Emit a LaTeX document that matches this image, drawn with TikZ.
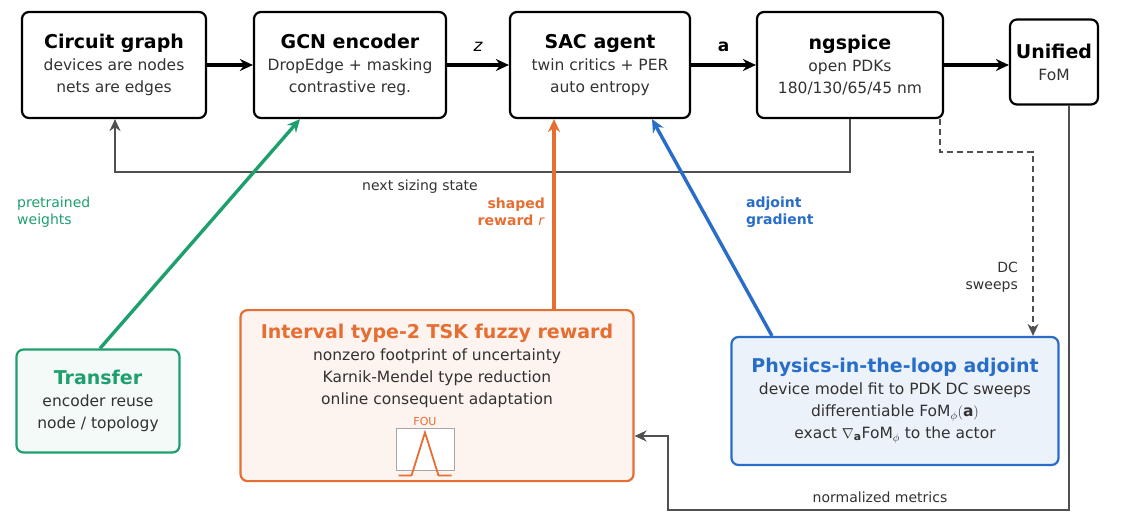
\documentclass[tikz,border=0pt]{standalone}
\usepackage{fontspec}
\usepackage{amsmath,amssymb}
\setmainfont{DejaVu Sans}
\usetikzlibrary{arrows.meta}
\definecolor{boxOrange}{RGB}{230,110,50}
\definecolor{boxGreen}{RGB}{30,160,110}
\definecolor{boxBlue}{RGB}{40,110,200}
\definecolor{linkGray}{RGB}{80,80,80}
\definecolor{bodyGray}{RGB}{50,50,50}
\tikzset{
  stage/.style={draw=black,line width=2.2pt,rounded corners=7pt,fill=white,align=center,inner sep=0pt,
    font=\fontsize{15.5}{22}\selectfont},
  flow/.style={line width=3.4pt,-{Stealth[length=13pt,width=12pt]}},
  back/.style={draw=linkGray,line width=1.8pt,-{Stealth[length=12pt,width=11pt]}},
  tag/.style={inner sep=0pt,font=\fontsize{14}{17}\selectfont},
}
\newcommand{\ttl}[1]{{\fontsize{19}{22}\selectfont\bfseries #1}}
\newcommand{\bdy}{\color{bodyGray}}
\begin{document}
\begin{tikzpicture}[x=1pt,y=-1pt]
\path[use as bounding box,fill=white] (0,0) rectangle (1131,522);

% top row
\node[stage,minimum width=184pt,minimum height=106pt] (graph) at (114,65)
  {\ttl{Circuit graph}\\{\bdy devices are nodes}\\{\bdy nets are edges}};
\node[stage,minimum width=192pt,minimum height=106pt] (gcn) at (350,65)
  {\ttl{GCN encoder}\\{\bdy DropEdge + masking}\\{\bdy contrastive reg.}};
\node[stage,minimum width=180pt,minimum height=106pt] (sac) at (600,65)
  {\ttl{SAC agent}\\{\bdy twin critics + PER}\\{\bdy auto entropy}};
\node[stage,minimum width=186pt,minimum height=106pt] (spice) at (850,65)
  {\ttl{ngspice}\\{\bdy open PDKs}\\{\bdy 180/130/65/45 nm}};
\node[stage,minimum width=88pt,minimum height=85pt] (fom) at (1054,62)
  {\ttl{Unified}\\{\bdy FoM}};

% bottom row
\node[stage,draw=boxGreen,fill=boxGreen!5,minimum width=163pt,minimum height=103pt] (transfer) at (98,401)
  {\ttl{\color{boxGreen}Transfer}\\{\bdy encoder reuse}\\{\bdy node / topology}};
\node[stage,draw=boxOrange,fill=boxOrange!8,minimum width=393pt,minimum height=171pt,anchor=north] (fuzzy) at (437,309) {};
\node[align=center,anchor=north,inner sep=0pt,font=\fontsize{15.5}{22}\selectfont] (fuzzytxt) at (437,324)
  {\ttl{\color{boxOrange}Interval type-2 TSK fuzzy reward}\\{\bdy nonzero footprint of uncertainty}\\{\bdy Karnik-Mendel type reduction}\\{\bdy online consequent adaptation}};
\node[draw=gray!70,fill=white,line width=1pt,minimum width=58pt,minimum height=42pt,inner sep=0pt] (fou) at (425,449) {};
\node[text=boxOrange,inner sep=0pt,font=\fontsize{11}{13}\selectfont] (foulbl) at (425,421) {FOU};
\draw[boxOrange,line width=1.8pt] ([xshift=3pt,yshift=-5pt]fou.south west) -- ++(13,0) -- ([yshift=-5pt]fou.north) -- ([xshift=-16pt,yshift=-5pt]fou.south east) -- ++(13,0);
\node[stage,draw=boxBlue,fill=boxBlue!9,minimum width=327pt,minimum height=128pt] (adjoint) at (895,401)
  {\ttl{\color{boxBlue}Physics-in-the-loop adjoint}\\{\bdy device model fit to PDK DC sweeps}\\{\bdy differentiable FoM$_\phi(\mathbf{a})$}\\{\bdy exact $\nabla_{\mathbf{a}}$FoM$_\phi$ to the actor}};

% main flow
\draw[flow] (graph) -- (gcn);
\draw[flow] (gcn) -- node[above=12pt,tag,font=\fontsize{17}{19}\selectfont\itshape] (zlbl) {z} (sac);
\draw[flow] (sac) -- node[above=12pt,tag,font=\fontsize{17}{19}\selectfont\bfseries] (albl) {a} (spice);
\draw[flow] (spice) -- (fom.west |- spice);

% feedback
\coordinate (loopR) at (850,172);
\coordinate (loopL) at (115,172);
\draw[back] (spice.south) |- (loopR) -- (loopL) -- (graph.south -| loopL);
\node[tag,text=bodyGray] (nextlbl) at (420,187) {next sizing state};

\draw[flow,boxGreen] ([xshift=2pt]transfer.north) -- ([xshift=-50pt]gcn.south);
\node[tag,text=boxGreen,align=left,anchor=west] (wlbl) at (17,212) {pretrained\\weights};

\draw[flow,boxOrange] (fuzzy.north -| 554,0) -- (sac.south -| 554,0);
\node[tag,text=boxOrange,align=right,anchor=east,font=\fontsize{14}{17}\selectfont\bfseries] (rlbl) at (545,212) {shaped\\reward \textit{\mdseries r}};

\draw[flow,boxBlue] ([xshift=-123pt]adjoint.north) -- ([xshift=52pt]sac.south);
\node[tag,text=boxBlue,align=left,anchor=west,font=\fontsize{14}{17}\selectfont\bfseries] (glbl) at (746,212) {adjoint\\gradient};

\coordinate (dcA) at (940,152);
\draw[back,dash pattern=on 6pt off 4pt] (spice.south -| dcA) -- (dcA) -| (adjoint.north -| 1033,0);
\node[tag,text=bodyGray,align=right,anchor=east] (dclbl) at (1018,277) {DC\\sweeps};

\coordinate (nmA) at (1069,510);
\coordinate (nmB) at (668,510);
\coordinate (nmC) at (668,436);
\draw[back] (fom.south -| nmA) -- (nmA) -- (nmB) -- (nmC) -- (fuzzy.east |- nmC);
\node[tag,text=bodyGray] (nmlbl) at (880,497) {normalized metrics};
\end{tikzpicture}
\end{document}
